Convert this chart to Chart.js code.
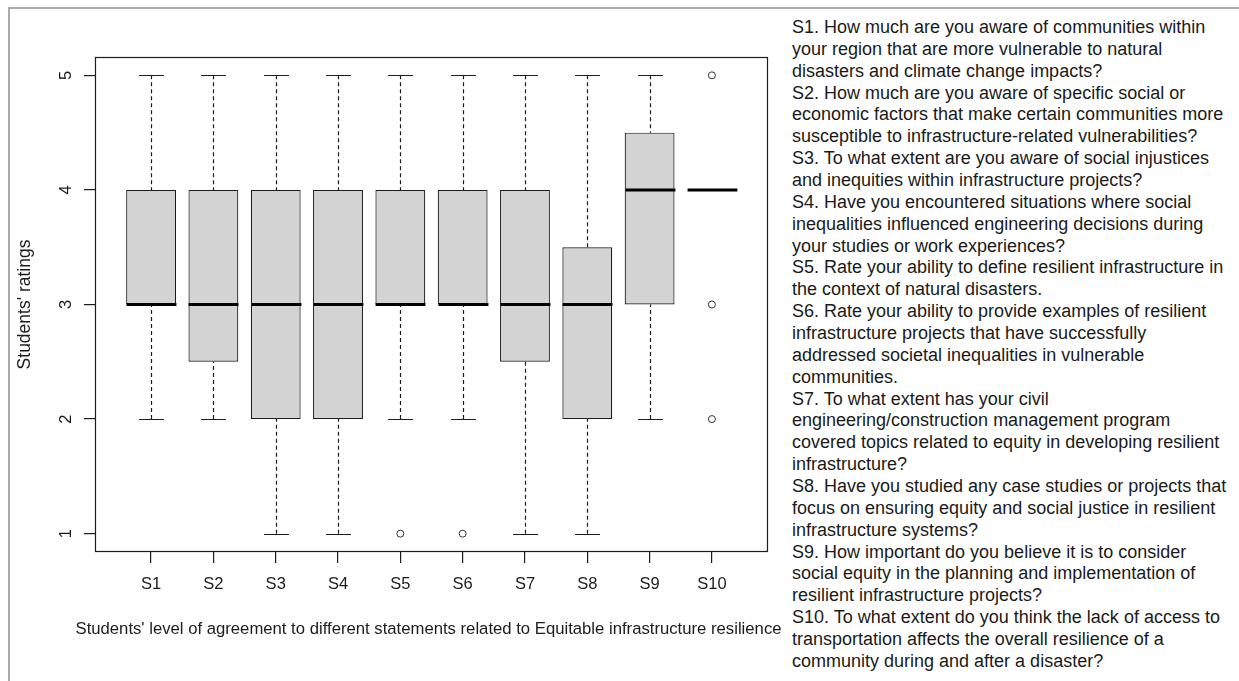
<!DOCTYPE html>
<html>
<head>
<meta charset="utf-8">
<title>Equitable infrastructure resilience ratings</title>
<script src="https://cdn.jsdelivr.net/npm/chart.js@4.4.1/dist/chart.umd.min.js"></script>
<style>
  html, body { margin: 0; padding: 0; background: #fff; width: 1239px; height: 681px; overflow: hidden; }
  #frame { position: absolute; left: 8px; top: 7px; width: 1260px; height: 700px;
           border-left: 2px solid #aaaaaa; border-top: 2px solid #aaaaaa; }
  #plot { position: absolute; left: 0; top: 0; width: 790px; height: 681px; }
  #notes { position: absolute; left: 792px; top: 17px; margin: 0;
           font-family: "Liberation Sans", Arial, sans-serif; font-size: 18px;
           line-height: 21.86px; color: #1a1a1a; white-space: nowrap; }
</style>
</head>
<body>
<div id="frame"></div>
<div id="plot"><canvas id="chart"></canvas></div>
<div id="notes">S1. How much are you aware of communities within<br>your region that are more vulnerable to natural<br>disasters and climate change impacts?<br>S2. How much are you aware of specific social or<br>economic factors that make certain communities more<br>susceptible to infrastructure-related vulnerabilities?<br>S3. To what extent are you aware of social injustices<br>and inequities within infrastructure projects?<br>S4. Have you encountered situations where social<br>inequalities influenced engineering decisions during<br>your studies or work experiences?<br>S5. Rate your ability to define resilient infrastructure in<br>the context of natural disasters.<br>S6. Rate your ability to provide examples of resilient<br>infrastructure projects that have successfully<br>addressed societal inequalities in vulnerable<br>communities.<br>S7. To what extent has your civil<br>engineering/construction management program<br>covered topics related to equity in developing resilient<br>infrastructure?<br>S8. Have you studied any case studies or projects that<br>focus on ensuring equity and social justice in resilient<br>infrastructure systems?<br>S9. How important do you believe it is to consider<br>social equity in the planning and implementation of<br>resilient infrastructure projects?<br>S10. To what extent do you think the lack of access to<br>transportation affects the overall resilience of a<br>community during and after a disaster?</div>
<script>
// Five-number summaries of the ratings for each statement
const categories     = ['S1', 'S2', 'S3', 'S4', 'S5', 'S6', 'S7', 'S8', 'S9', 'S10'];
const whiskerLow     = [2, 2,   1, 1, 2, 2, 1,   1,   2,   4];
const lowerQuartile  = [3, 2.5, 2, 2, 3, 3, 2.5, 2,   3,   4];
const medianRating   = [3, 3,   3, 3, 3, 3, 3,   3,   4,   4];
const upperQuartile  = [4, 4,   4, 4, 4, 4, 4,   3.5, 4.5, 4];
const whiskerHigh    = [5, 5,   5, 5, 5, 5, 5,   5,   5,   4];

// Outlying ratings: statement number and rating
const outlierStatement = [5, 6, 10, 10, 10];
const outlierRating    = [1, 1, 5,  3,  2];

const yTickValues = [1, 2, 3, 4, 5];
const yTickLabels = ['1', '2', '3', '4', '5'];

const xAxisTitle = "Students' level of agreement to different statements related to Equitable infrastructure resilience";

const FONT = '"Liberation Sans", Arial, sans-serif';
const INK = '#1c1c1c';

// Whiskers, caps, medians, the plot frame, the upright y tick labels and the x title
const boxDetails = {
  id: 'boxDetails',
  afterDatasetsDraw(chart) {
    const { ctx, scales: { x, y } } = chart;
    const bars = chart.getDatasetMeta(0).data;
    ctx.save();
    categories.forEach((c, i) => {
      const cx = Math.round(x.getPixelForValue(i + 1)) + 0.5;
      const half = bars[i].width / 2;
      const capHalf = half / 2;
      const yLo = y.getPixelForValue(whiskerLow[i]);
      const yQ1 = y.getPixelForValue(lowerQuartile[i]);
      const yMed = y.getPixelForValue(medianRating[i]);
      const yQ3 = y.getPixelForValue(upperQuartile[i]);
      const yHi = y.getPixelForValue(whiskerHigh[i]);

      ctx.strokeStyle = INK;
      ctx.lineWidth = 1.2;
      ctx.setLineDash([4, 3]);
      ctx.beginPath();
      if (whiskerHigh[i] > upperQuartile[i]) { ctx.moveTo(cx, yHi); ctx.lineTo(cx, yQ3); }
      if (whiskerLow[i] < lowerQuartile[i]) { ctx.moveTo(cx, yLo); ctx.lineTo(cx, yQ1); }
      ctx.stroke();
      ctx.setLineDash([]);

      ctx.beginPath();
      if (whiskerHigh[i] > upperQuartile[i]) {
        ctx.moveTo(cx - capHalf, Math.round(yHi) + 0.5); ctx.lineTo(cx + capHalf, Math.round(yHi) + 0.5);
      }
      if (whiskerLow[i] < lowerQuartile[i]) {
        ctx.moveTo(cx - capHalf, Math.round(yLo) + 0.5); ctx.lineTo(cx + capHalf, Math.round(yLo) + 0.5);
      }
      ctx.stroke();

      ctx.strokeStyle = '#000';
      ctx.lineWidth = 3;
      ctx.beginPath();
      ctx.moveTo(cx - half, yMed);
      ctx.lineTo(cx + half, yMed);
      ctx.stroke();
    });
    ctx.restore();
  },
  afterDraw(chart) {
    const { ctx, chartArea: a, scales: { x, y } } = chart;
    ctx.save();
    ctx.strokeStyle = INK;
    ctx.lineWidth = 1.2;
    ctx.strokeRect(Math.round(a.left) + 0.5, Math.round(a.top) + 0.5,
                   Math.round(a.right - a.left) - 1, Math.round(a.bottom - a.top) - 1);

    ctx.fillStyle = INK;
    ctx.font = '16.5px ' + FONT;
    ctx.textAlign = 'center';
    ctx.textBaseline = 'middle';
    yTickValues.forEach((v, i) => {
      ctx.save();
      ctx.translate(66, y.getPixelForValue(v));
      ctx.rotate(-Math.PI / 2);
      ctx.fillText(yTickLabels[i], 0, 0);
      ctx.restore();
    });

    ctx.font = '16.7px ' + FONT;
    ctx.fillText(xAxisTitle, (x.left + x.right) / 2 - 3, x.bottom - 52);
    ctx.restore();
  }
};

new Chart(document.getElementById('chart'), {
  type: 'bar',
  data: {
    datasets: [
      {
        type: 'bar',
        data: categories.map((c, i) => ({ x: i + 1, y: [lowerQuartile[i], upperQuartile[i]] })),
        backgroundColor: '#d3d3d3',
        borderColor: INK,
        borderWidth: 1.2,
        borderSkipped: false,
        barPercentage: 0.8,
        categoryPercentage: 1.0
      },
      {
        type: 'scatter',
        data: outlierStatement.map((s, i) => ({ x: s, y: outlierRating[i] })),
        pointStyle: 'circle',
        pointRadius: 3.5,
        backgroundColor: 'rgba(255,255,255,0)',
        borderColor: '#333',
        borderWidth: 1
      }
    ]
  },
  options: {
    responsive: true,
    maintainAspectRatio: false,
    animation: false,
    layout: { padding: { top: 57, right: 22, bottom: 0, left: 0 } },
    plugins: { legend: { display: false }, tooltip: { enabled: false } },
    scales: {
      x: {
        type: 'linear',
        offset: false,
        min: 0.1,
        max: 10.9,
        afterBuildTicks: (s) => { s.ticks = categories.map((c, i) => ({ value: i + 1 })); },
        afterFit: (s) => { s.height = 129; },
        grid: { display: true, offset: false, drawOnChartArea: false, drawTicks: true, tickLength: 11, tickColor: INK, lineWidth: 1.2 },
        border: { display: false },
        ticks: {
          autoSkip: false, maxRotation: 0, minRotation: 0, padding: 12,
          color: INK, font: { family: FONT, size: 16.5 },
          callback: (v, i) => categories[i]
        },
        title: { display: false }
      },
      y: {
        type: 'linear',
        min: 0.84,
        max: 5.16,
        afterBuildTicks: (s) => { s.ticks = yTickValues.map(v => ({ value: v })); },
        afterFit: (s) => { s.width = 95; },
        grid: { display: true, drawOnChartArea: false, drawTicks: true, tickLength: 11, tickColor: INK, lineWidth: 1.2 },
        border: { display: false },
        ticks: { display: false },
        title: {
          display: true,
          text: "Students' ratings",
          color: INK, font: { family: FONT, size: 17.5 },
          padding: { top: 14.5, bottom: 0 }
        }
      }
    }
  },
  plugins: [boxDetails]
});
</script>
</body>
</html>
